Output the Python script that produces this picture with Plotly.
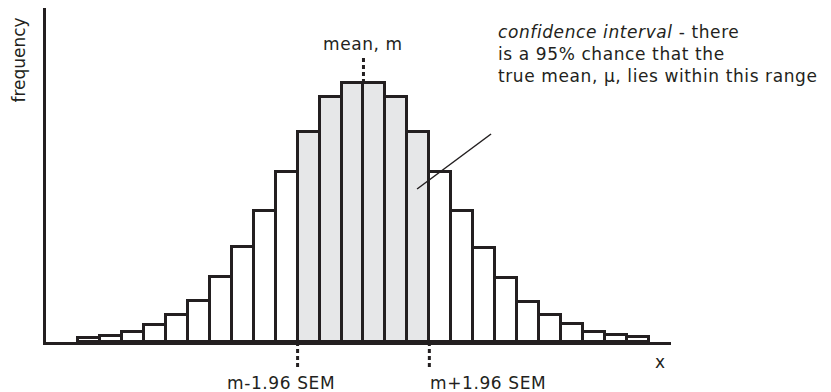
import plotly.graph_objects as go

# bar heights (arbitrary frequency units) for 26 class intervals
bins = list(range(26))
freq = [4, 6, 10, 17, 27, 41, 65, 95, 131, 170, 210, 245, 259,
        259, 245, 210, 170, 131, 94, 64, 40, 27, 18, 10, 7, 5]
# bins lying inside the 95% confidence interval
ci_bins = [10, 11, 12, 13, 14, 15]

mean_pos = 12.5
ci_low = 9.5
ci_high = 15.5

INK = "#231f20"
SHADE = "#e6e7e8"
FONT = "DejaVu Sans"
LS = "letter-spacing:0.6px"


def sp(t, ls=LS):
    return '<span style="%s">%s</span>' % (ls, t)


colors = [SHADE if b in ci_bins else "white" for b in bins]

fig = go.Figure()
fig.add_trace(go.Bar(
    x=bins, y=freq, width=1,
    marker=dict(color=colors, line=dict(color=INK, width=3)),
    hoverinfo="skip", showlegend=False,
))

dash = "4px,3px"
# mean dashed line above the bars
fig.add_shape(type="line", xref="x", yref="y", x0=mean_pos, x1=mean_pos,
              y0=284, y1=freq[12], line=dict(color=INK, width=3, dash=dash))
# CI limits dashed below axis
for xv in (ci_low, ci_high):
    fig.add_shape(type="line", xref="x", yref="paper", x0=xv, x1=xv,
                  y0=0, y1=-0.078, line=dict(color=INK, width=3, dash=dash))
# pointer line
fig.add_shape(type="line", xref="x", yref="y", x0=14.94, y0=153, x1=18.31, y1=208,
              line=dict(color=INK, width=1.5))

ann_font = dict(family=FONT, size=17, color=INK)
fig.add_annotation(x=mean_pos, y=298, xref="x", yref="y", text=sp("mean, m"),
                   showarrow=False, font=ann_font, xanchor="center", yanchor="middle")
fig.add_annotation(x=18.54, y=288, xref="x", yref="y",
                   text=sp("<i>confidence interval</i> - there") + "<br>"
                   + sp("is a 95% chance that the") + "<br>"
                   + sp("true mean, \u03bc, lies within this range"),
                   showarrow=False, font=ann_font, xanchor="left", yanchor="middle", align="left")
fig.add_annotation(x=-0.0435, y=0.845, xref="paper", yref="paper",
                   text=sp("frequency", "letter-spacing:0px"),
                   textangle=-90, showarrow=False, font=ann_font, borderpad=0,
                   xanchor="center", yanchor="middle")
fig.add_annotation(x=0.9824, y=-0.0599, xref="paper", yref="paper", text=sp("x"),
                   showarrow=False, font=ann_font, xanchor="center", yanchor="middle")
fig.add_annotation(x=0.376, y=-0.1228, xref="paper", yref="paper", text=sp("m-1.96 SEM"),
                   showarrow=False, font=ann_font, xanchor="center", yanchor="middle")
fig.add_annotation(x=0.7064, y=-0.1228, xref="paper", yref="paper", text=sp("m+1.96 SEM"),
                   showarrow=False, font=ann_font, xanchor="center", yanchor="middle")

# the page body has an 8px margin, so the figure is 8px smaller on each axis
fig.update_layout(
    width=823, height=384,
    margin=dict(l=38, r=160, t=0, b=50),
    plot_bgcolor="white", paper_bgcolor="white",
    bargap=0,
    font=dict(family=FONT, color=INK),
    xaxis=dict(range=[-1.957, 26.504], showgrid=False, zeroline=False,
               showticklabels=False, ticks="", showline=True, linewidth=3, linecolor=INK),
    yaxis=dict(range=[0, 334], showgrid=False, zeroline=False,
               showticklabels=False, ticks="", showline=True, linewidth=3, linecolor=INK),
)

fig.write_html("out.html")
